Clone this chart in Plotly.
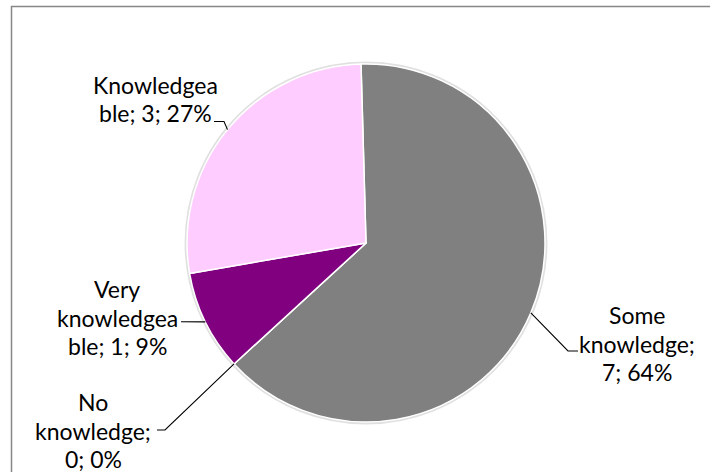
import math
import plotly.graph_objects as go

# Survey responses (slices in clockwise order from the top)
categories = ["Some knowledge", "No knowledge", "Very knowledgeable", "Knowledgeable"]
counts = [7, 0, 1, 3]
colors = ["#808080", "#FFFFFF", "#800080", "#FFCCFF"]

# Wrapped label lines; {v} and {p} are filled with the count and percentage
label_lines = [
    ["Some", "knowledge;", "{v}; {p}%"],
    ["No", "knowledge;", "{v}; {p}%"],
    ["Very", "knowledgea", "ble; {v}; {p}%"],
    ["Knowledgea", "ble; {v}; {p}%"],
]

W, H = 710, 472
CX, CY, R = 366, 243, 179          # pie centre and radius in pixels
START = -1.6                        # first slice start angle (deg, clockwise from 12 o'clock)

# label placement: (centre x, first line y) and the leader elbow points
label_pos = [(637, 315), (93, 402), (117, 289), (155, 85)]
leader_elbows = [
    [(578, 351), (568, 351)],
    [(157, 430), (165, 430)],
    [(181, 321.7)],
    [(214, 121.5), (224, 121.5)],
]
LINE_H = 28.5


def px(x):
    return x / W


def py(y):
    return 1 - y / H


total = sum(counts)
fig = go.Figure(
    go.Pie(
        labels=categories,
        values=counts,
        sort=False,
        direction="clockwise",
        rotation=START,
        marker=dict(colors=colors, line=dict(color="white", width=1.5)),
        textinfo="none",
        hoverinfo="label+value+percent",
        showlegend=False,
        domain=dict(x=[px(CX - R), px(CX + R)], y=[py(CY + R), py(CY - R)]),
    )
)

annotations = []
shapes = []

# outer chart border
shapes.append(dict(type="rect", xref="paper", yref="paper",
                   x0=px(11.5), x1=px(W + 20), y0=py(6.5), y1=py(H + 20),
                   line=dict(color="#878787", width=1.5), fillcolor="rgba(0,0,0,0)",
                   layer="below"))
# soft edge around the pie
shapes.append(dict(type="circle", xref="paper", yref="paper",
                   x0=px(CX - R - 1.2), x1=px(CX + R + 1.2),
                   y0=py(CY + R + 1.2), y1=py(CY - R - 1.2),
                   line=dict(color="rgba(0,0,0,0.12)", width=2.5), layer="below"))

cum = 0
for i, v in enumerate(counts):
    mid = START + 360 * (cum + v / 2) / total
    cum += v
    a = math.radians(mid)
    ex, ey = CX + R * math.sin(a), CY - R * math.cos(a)
    pct = round(100 * v / total)

    pts = leader_elbows[i] + [(ex, ey)]
    path = "M " + " L ".join(f"{px(x):.5f},{py(y):.5f}" for x, y in pts)
    shapes.append(dict(type="path", xref="paper", yref="paper", path=path,
                       line=dict(color="black", width=1.1)))

    lx, ly = label_pos[i]
    for k, line in enumerate(label_lines[i]):
        annotations.append(dict(
            xref="paper", yref="paper", x=px(lx), y=py(ly + k * LINE_H),
            xanchor="center", yanchor="middle", showarrow=False,
            text=line.format(v=v, p=pct),
            font=dict(family="Lato", size=23, color="black"),
        ))

fig.update_layout(
    width=W, height=H,
    margin=dict(l=0, r=0, t=0, b=0),
    paper_bgcolor="white",
    plot_bgcolor="white",
    shapes=shapes,
    annotations=annotations,
)

fig.write_html("out.html")
